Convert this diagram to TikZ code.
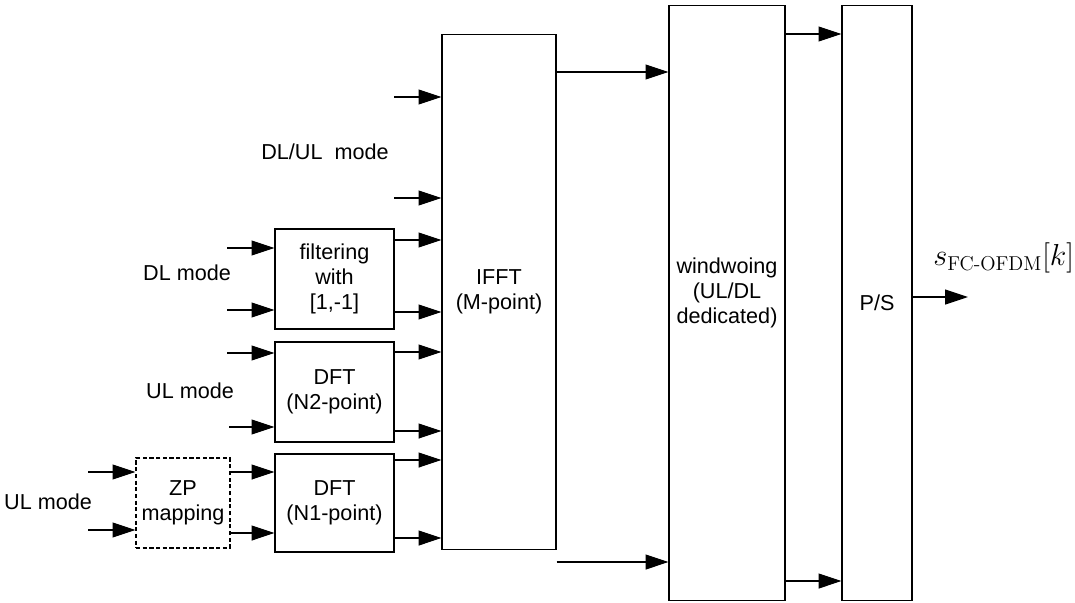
\documentclass[tikz,border=0pt]{standalone}
\usepackage{amsmath}
\usepackage{fontspec}
\newfontfamily\arialfont{Liberation Sans}
\usetikzlibrary{arrows.meta}

\tikzset{
    blk/.style={draw, line width=0.6pt, fill=white, align=center, inner sep=0pt,
        font=\arialfont\fontsize{12.3}{14.2}\selectfont},
    zpblk/.style={blk, dash pattern=on 2.4pt off 1.4pt},
    lbl/.style={font=\arialfont\fontsize{12.3}{14.2}\selectfont, align=center},
    arr/.style={-{Triangle[length=13pt, width=8.5pt]}, line width=0.6pt}
}

\begin{document}
\begin{tikzpicture}[x=0.02cm, y=-0.02cm]
    \useasboundingbox (0,0) rectangle (1075,602);
    % Main blocks
    \node[blk, minimum width=2.28cm, minimum height=10.32cm] (ifft) at (499,292) {IFFT\\(M-point)};
    \node[blk, minimum width=2.32cm, minimum height=11.92cm] (win) at (727,303) {};
    \node[lbl] (wintxt) at (727,293) {windwoing\\(UL/DL\\dedicated)};
    \node[blk, minimum width=1.4cm, minimum height=11.92cm] (ps) at (877,303) {P/S};
    % Mode branches
    \node[blk, minimum width=2.38cm, minimum height=2cm] (filt) at (334.5,279) {filtering\\with\\{[1,-1]}};
    \node[blk, minimum width=2.38cm, minimum height=2cm] (dft2) at (334.5,392) {DFT\\(N2-point)};
    \node[blk, minimum width=2.38cm, minimum height=1.96cm] (dft1) at (334.5,503) {DFT\\(N1-point)};
    \node[zpblk, minimum width=1.88cm, minimum height=1.8cm] (zp) at (183,503) {ZP\\mapping};
    % Mode labels
    \node[lbl] (dlul) at (325,152) {DL/UL\ \ mode};
    \node[lbl] (dl) at (187,273) {DL mode};
    \node[lbl] (ul2) at (190,391) {UL mode};
    \node[lbl] (ul1) at (48,502) {UL mode};
    \node[right, inner sep=0pt, font=\fontsize{16.3}{19}\selectfont] (sout) at (933,258) {$s_{\text{FC-OFDM}}[k]$};
    % Free ends
    \coordinate (i1) at (394,97);
    \coordinate (i2) at (394,198);
    \coordinate (f1) at (227,248);
    \coordinate (f2) at (227,310);
    \coordinate (d1) at (227,353);
    \coordinate (d2) at (229,427);
    \coordinate (z1) at (88,472);
    \coordinate (z2) at (88,530);
    \coordinate (o) at (968,297);
    % Inputs
    \draw[arr] (i1) -- (i1 -| ifft.west);
    \draw[arr] (i2) -- (i2 -| ifft.west);
    \foreach \c/\b in {f1/filt, f2/filt, d1/dft2, d2/dft2, z1/zp, z2/zp} {
        \draw[arr] (\c) -- (\c -| \b.west);
    }
    % Branches into IFFT
    \foreach \b/\y in {filt/240, filt/312, dft2/352, dft2/431, dft1/460, dft1/538} {
        \draw[arr] (\b.east |- 0,\y) -- (ifft.west |- 0,\y);
    }
    \foreach \y in {472, 533} {
        \draw[arr] (zp.east |- 0,\y) -- (dft1.west |- 0,\y);
    }
    % IFFT -> windowing -> P/S
    \foreach \y in {72, 562} {
        \draw[arr] (ifft.east |- 0,\y) -- (win.west |- 0,\y);
    }
    \foreach \y in {34, 581} {
        \draw[arr] (win.east |- 0,\y) -- (ps.west |- 0,\y);
    }
    \draw[arr] (ps.east |- o) -- (o);
\end{tikzpicture}
\end{document}
